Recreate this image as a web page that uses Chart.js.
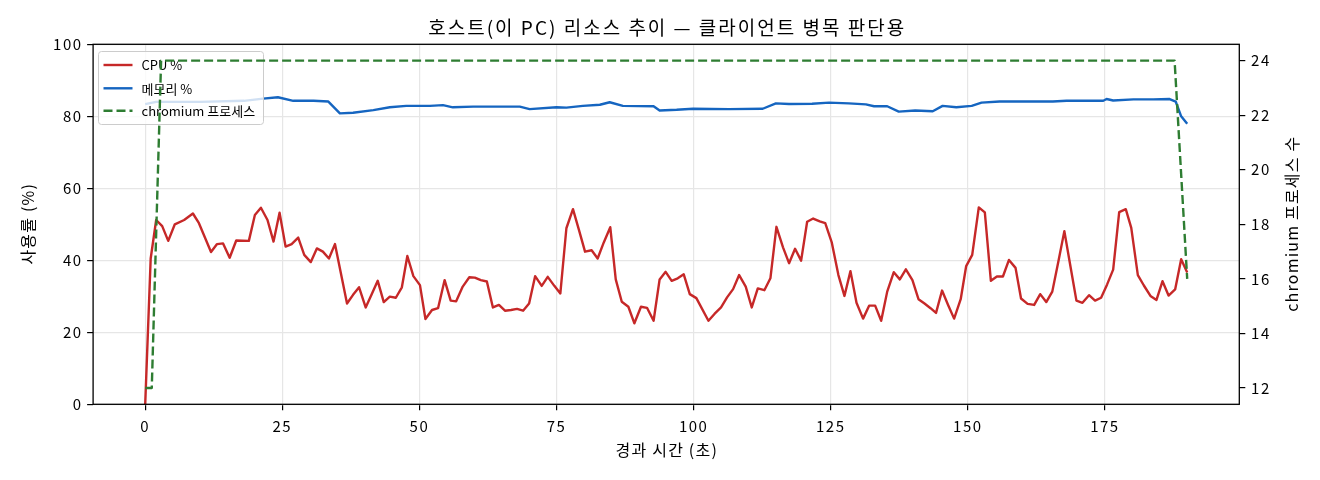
<!DOCTYPE html>
<html>
<head>
<meta charset="utf-8">
<script src="https://cdn.jsdelivr.net/npm/chart.js@4.4.1/dist/chart.umd.min.js"></script>
<style>
  html, body { margin:0; padding:0; background:#fff; }
  canvas { display:block; }
</style>
</head>
<body>
<canvas id="chart" width="1320" height="480"></canvas>
<script>
const FONT = '"Noto Sans CJK KR", "Noto Sans", sans-serif';

// ── Datos ─────────────────────────────────────────────────────────────────
const cpuT = [0,1.0,2.0,3.1,4.2,5.4,7.1,8.7,9.8,12.0,13.1,14.2,15.4,16.6,18.9,20.0,21.1,22.3,23.4,24.5,
  25.6,26.7,27.9,29.0,30.2,31.3,32.4,33.5,34.6,36.8,37.9,39.0,40.2,41.3,42.4,43.5,44.6,45.7,46.8,47.8,
  48.9,50.1,51.1,52.3,53.4,54.6,55.7,56.7,57.9,59.1,60.1,61.2,62.3,63.4,64.5,65.6,66.7,67.8,68.9,70.0,
  71.1,72.3,73.4,74.6,75.7,76.8,78.0,79.1,80.2,81.4,82.5,83.6,84.8,85.8,86.9,88.1,89.2,90.4,91.5,92.7,
  93.8,94.9,96.0,97.1,98.2,99.3,100.5,102.7,103.8,105.0,106.1,107.2,108.3,109.5,110.6,111.7,112.9,114.0,115.1,116.3,
  117.4,118.5,119.6,120.7,121.8,123.0,124.0,125.2,126.4,127.5,128.6,129.7,130.9,132.0,133.1,134.2,135.3,136.5,137.6,138.7,
  139.9,141.0,142.1,143.2,144.2,145.3,146.4,147.5,148.7,149.7,150.8,152.0,153.1,154.2,155.3,156.4,157.5,158.7,159.7,160.9,
  162.1,163.2,164.3,165.4,166.5,167.6,168.7,169.8,170.9,172.1,173.2,174.3,175.4,176.5,177.6,178.8,179.8,181.0,182.1,183.3,
  184.4,185.5,186.6,187.8,188.9,190.0];
const cpuVal = [0,40.5,51.2,49.5,45.4,50.0,51.2,53.0,50.3,42.3,44.5,44.7,40.7,45.5,45.4,52.6,54.6,51.2,45.2,53.2,
  43.8,44.5,46.3,41.5,39.5,43.3,42.4,40.5,44.5,28.0,30.4,32.5,26.9,30.6,34.3,28.4,29.9,29.6,32.5,41.2,
  35.6,33.1,23.7,26.2,26.7,34.5,28.8,28.6,32.7,35.3,35.2,34.5,34.1,26.9,27.6,26.0,26.2,26.5,26.0,28.0,
  35.6,32.9,35.4,32.9,30.8,48.9,54.2,48.4,42.4,42.8,40.5,44.9,49.2,34.7,28.5,27.1,22.5,27.1,26.8,23.2,
  34.7,36.8,34.3,35.0,36.1,30.6,29.5,23.2,25.1,26.9,29.7,32.0,35.9,32.7,26.9,32.2,31.7,35.0,49.3,43.6,
  39.2,43.2,39.9,50.7,51.6,50.8,50.3,44.9,35.9,30.1,37.0,28.2,23.8,27.4,27.4,23.2,31.3,36.7,34.7,37.5,
  34.5,29.2,28.0,26.7,25.4,31.6,27.6,23.8,29.2,38.4,41.5,54.7,53.3,34.3,35.5,35.5,40.1,37.9,29.4,27.9,
  27.6,30.6,28.4,31.3,39.6,48.1,38.4,28.8,28.2,30.3,28.8,29.6,33.3,37.4,53.4,54.2,49.0,35.9,33.0,30.1,
  29.0,34.2,30.2,31.9,40.3,36.6];

const memT = [0,2,10,18,21.5,24.2,27.0,30.7,33.4,35.5,37.9,41.6,44.6,47.6,51.9,54.3,56.1,59.8,68.3,70.1,
  75.0,76.8,79.8,82.9,84.7,87.1,92.7,93.8,96.9,99.9,106.5,112.6,115.0,117.4,121.6,124.7,128.3,131.4,132.9,135.3,
  137.4,140.4,143.6,145.4,147.9,150.7,152.5,155.8,165.5,168.0,174.7,175.3,176.5,180.2,183.8,186.8,187.9,188.9,190.0];
const memVal = [83.4,84.0,84.0,84.3,84.9,85.3,84.3,84.3,84.1,80.8,81.0,81.7,82.5,82.9,82.9,83.1,82.5,82.7,82.7,82.0,
  82.5,82.4,82.9,83.2,83.9,82.9,82.8,81.6,81.8,82.1,82.0,82.1,83.6,83.4,83.5,83.8,83.6,83.3,82.8,82.8,
  81.3,81.6,81.4,82.9,82.5,82.9,83.8,84.1,84.1,84.3,84.3,84.8,84.4,84.7,84.7,84.8,84.1,80.0,77.9];

const procT   = [0, 1.2, 2.9, 187.7, 190.0];
const procVal = [12, 12, 24, 24, 16];

const xTicks  = [0, 25, 50, 75, 100, 125, 150, 175];
const yTicks  = [0, 20, 40, 60, 80, 100];
const y2Ticks = [12, 14, 16, 18, 20, 22, 24];

const SERIES = [
  { label: "CPU %",          color: "#c62828", dash: [] },
  { label: "메모리 %",        color: "#1565c0", dash: [] },
  { label: "chromium 프로세스", color: "#2e7d32", dash: [9, 4] }
];

const pts = (xs, ys) => xs.map((x, i) => ({ x, y: ys[i] }));

// ── Leyenda estilo matplotlib (bajo la serie del eje derecho) ─────────────
const legendPlugin = {
  id: "mplLegend",
  beforeDatasetDraw(chart, args) {
    if (args.index !== 2) return;
    const ctx = chart.ctx;
    ctx.save();
    ctx.letterSpacing = "0px";
    ctx.beginPath();
    ctx.roundRect(98.5, 51.5, 165, 73, 3);
    ctx.fillStyle = "rgba(255,255,255,0.8)";
    ctx.fill();
    ctx.strokeStyle = "#cccccc";
    ctx.lineWidth = 1;
    ctx.stroke();
    const rows = [65, 88.3, 110.7];
    SERIES.forEach((s, i) => {
      ctx.beginPath();
      ctx.setLineDash(s.dash);
      ctx.strokeStyle = s.color;
      ctx.lineWidth = 2.4;
      ctx.moveTo(103.5, rows[i]);
      ctx.lineTo(132.5, rows[i]);
      ctx.stroke();
      ctx.setLineDash([]);
      ctx.fillStyle = "#000";
      ctx.font = `13px ${FONT}`;
      ctx.textBaseline = "middle";
      ctx.textAlign = "left";
      ctx.fillText(s.label, 141.5, rows[i] + 0.5);
    });
    ctx.restore();
  }
};

// ── Marco, títulos ────────────────────────────────────────────────────────
const framePlugin = {
  id: "frame",
  beforeDraw(chart) { chart.ctx.letterSpacing = "1.5px"; },
  afterDatasetsDraw(chart) {
    const { ctx, chartArea: a } = chart;
    ctx.save();
    ctx.strokeStyle = "#000";
    ctx.lineWidth = 1.3;
    ctx.strokeRect(a.left, a.top, a.right - a.left, a.bottom - a.top);
    ctx.restore();
  },
  afterDraw(chart) {
    const { ctx, chartArea: a } = chart;
    const midY = (a.top + a.bottom) / 2;
    ctx.save();
    ctx.fillStyle = "#000";
    ctx.textAlign = "center";
    ctx.textBaseline = "middle";
    ctx.letterSpacing = "2px";
    ctx.font = `19px ${FONT}`;
    ctx.fillText("호스트(이 PC) 리소스 추이 — 클라이언트 병목 판단용", (a.left + a.right) / 2 + 1, 28);
    ctx.letterSpacing = "1.2px";
    ctx.font = `16px ${FONT}`;
    ctx.fillText("경과 시간 (초)", (a.left + a.right) / 2 + 0.6, 450);
    [[28, "사용률 (%)"], [1292, "chromium 프로세스 수"]].forEach(([x, t]) => {
      ctx.save();
      ctx.translate(x, midY);
      ctx.rotate(-Math.PI / 2);
      ctx.fillText(t, 0.6, 0);
      ctx.restore();
    });
    ctx.restore();
  }
};

const tickFont = { family: FONT, size: 15 };
const setTicks = arr => s => { s.ticks = arr.map(v => ({ value: v })); };
const gridOpts = { color: "#e6e6e6", tickColor: "#000", tickLength: 6, lineWidth: 1.2, tickWidth: 1.2 };

new Chart(document.getElementById("chart"), {
  type: "line",
  data: {
    datasets: [
      { label: SERIES[0].label, data: pts(cpuT, cpuVal),   borderColor: SERIES[0].color, borderWidth: 2.4, yAxisID: "y",  order: 2 },
      { label: SERIES[1].label, data: pts(memT, memVal),   borderColor: SERIES[1].color, borderWidth: 2.4, yAxisID: "y",  order: 1 },
      { label: SERIES[2].label, data: pts(procT, procVal), borderColor: SERIES[2].color, borderWidth: 2.4, yAxisID: "y1", order: 0,
        borderDash: SERIES[2].dash }
    ]
  },
  options: {
    responsive: false, animation: false, devicePixelRatio: 1,
    layout: { padding: { top: 44.3 } },
    elements: { point: { radius: 0 }, line: { tension: 0, borderJoinStyle: "round", fill: false } },
    scales: {
      x: {
        type: "linear", position: "bottom", min: -9.5, max: 199.5,
        afterBuildTicks: setTicks(xTicks),
        afterFit: s => { s.height = 75.7; },
        ticks: { font: tickFont, color: "#000", padding: 6.5, maxRotation: 0 },
        grid: gridOpts,
        border: { display: false }
      },
      y: {
        position: "left", min: 0, max: 100,
        afterBuildTicks: setTicks(yTicks),
        afterFit: s => { s.width = 93.1; },
        ticks: { font: tickFont, color: "#000", padding: 4.5 },
        grid: gridOpts,
        border: { display: false }
      },
      y1: {
        position: "right", min: 11.4, max: 24.6,
        afterBuildTicks: setTicks(y2Ticks),
        afterFit: s => { s.width = 80.7; },
        ticks: { font: tickFont, color: "#000", padding: 5.8 },
        grid: { ...gridOpts, drawOnChartArea: false },
        border: { display: false }
      }
    },
    plugins: { legend: { display: false }, tooltip: { enabled: false }, title: { display: false } }
  },
  plugins: [legendPlugin, framePlugin]
});
</script>
</body>
</html>
